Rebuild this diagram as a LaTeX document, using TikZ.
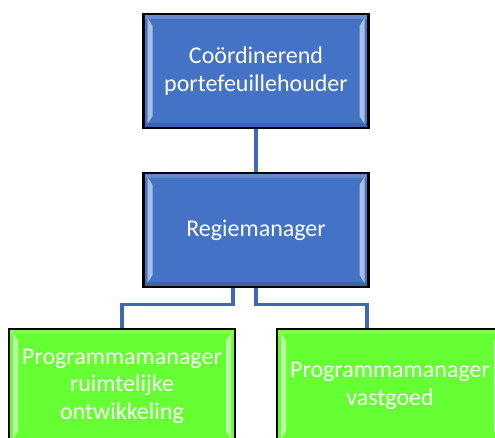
\documentclass[tikz,border=0pt]{standalone}
\usepackage{fontspec}
\setmainfont{Carlito}
\usepackage{tikz}
\definecolor{boxblue}{HTML}{4472C4}
\definecolor{lineblue}{HTML}{3F67B5}
\definecolor{boxgreen}{HTML}{66FF33}
\tikzset{
  bevel/.style={path picture={
      \fill[white,opacity=0.18] (path picture bounding box.north west) rectangle ([yshift=-5pt]path picture bounding box.north east);
      \fill[black,opacity=0.12] (path picture bounding box.south west) rectangle ([yshift=5pt]path picture bounding box.south east);
      \fill[white,opacity=0.55] ([shift={(4pt,-4pt)}]path picture bounding box.north west) -- ([shift={(9pt,-12pt)}]path picture bounding box.north west)
        -- ([shift={(9pt,12pt)}]path picture bounding box.south west) -- ([shift={(4pt,4pt)}]path picture bounding box.south west) -- cycle;
      \fill[white,opacity=0.55] ([shift={(-4pt,-4pt)}]path picture bounding box.north east) -- ([shift={(-9pt,-12pt)}]path picture bounding box.north east)
        -- ([shift={(-9pt,12pt)}]path picture bounding box.south east) -- ([shift={(-4pt,4pt)}]path picture bounding box.south east) -- cycle;
  }},
  orgbox/.style={draw=black, line width=2.2pt, bevel, minimum width=225pt, minimum height=114pt,
    align=center, text=white, inner sep=0pt, font=\fontsize{24}{27.5}\selectfont},
  bluebox/.style={orgbox, fill=boxblue},
  greenbox/.style={orgbox, fill=boxgreen},
  link/.style={draw=lineblue, line width=3.2pt}
}
\begin{document}
\begin{tikzpicture}[x=1pt, y=-1pt]
  \useasboundingbox (0,0) rectangle (495,437);
  \clip (0,0) rectangle (495,437);
  % boxes
  \node[bluebox] (coord) at (256,71) {Coördinerend\\portefeuillehouder};
  \node[bluebox] (regie) at (256,230) {Regiemanager};
  \node[greenbox, minimum width=226pt] (ruimte) at (122,386) {Programmamanager\\ruimtelijke\\ontwikkeling};
  \node[greenbox, minimum width=226pt] (vastgoed) at (390,386) {Programmamanager\\vastgoed};
  % connectors
  \draw[link] (coord.south) -- (regie.north);
  \draw[link] ([xshift=-23pt]regie.south) -- ++(0,16) -| (ruimte.north);
  \draw[link] (regie.south) -- ++(0,16) -| ([xshift=-23pt]vastgoed.north);
\end{tikzpicture}
\end{document}
